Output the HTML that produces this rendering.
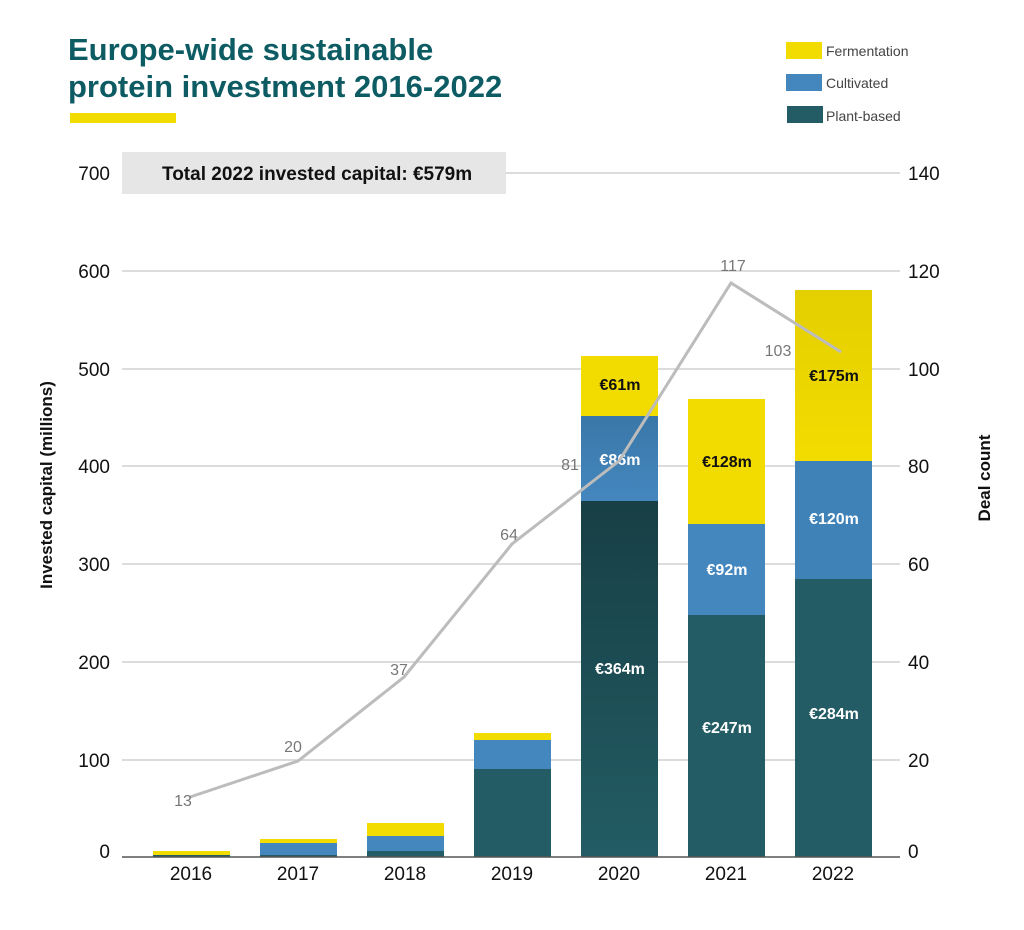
<!DOCTYPE html>
<html><head><meta charset="utf-8"><style>
body{margin:0;background:#fff;}
svg text{font-family:"Liberation Sans",sans-serif;}
</style></head><body>
<svg width="1024" height="925" viewBox="0 0 1024 925" xmlns="http://www.w3.org/2000/svg">
<defs>
<linearGradient id="g20" x1="0" y1="0" x2="0" y2="1"><stop offset="0" stop-color="#173f45"/><stop offset="1" stop-color="#235c64"/></linearGradient>
<linearGradient id="c20" x1="0" y1="0" x2="0" y2="1"><stop offset="0" stop-color="#3a77a8"/><stop offset="1" stop-color="#4487be"/></linearGradient>
<linearGradient id="f22" x1="0" y1="0" x2="0" y2="1"><stop offset="0" stop-color="#e4cf00"/><stop offset="1" stop-color="#f2dc00"/></linearGradient>
</defs>
<text x="68" y="60" font-size="31" font-weight="bold" fill="#0e5c63">Europe-wide sustainable</text>
<text x="68" y="97" font-size="31" font-weight="bold" fill="#0e5c63">protein investment 2016-2022</text>
<rect x="70" y="113" width="106" height="10" fill="#f2dc00"/>
<rect x="786" y="42" width="36" height="17" fill="#f2dc00"/>
<text x="826" y="56" font-size="14" fill="#444">Fermentation</text>
<rect x="786" y="74" width="36" height="17" fill="#4487be"/>
<text x="826" y="88" font-size="14" fill="#444">Cultivated</text>
<rect x="787" y="106" width="36" height="17" fill="#235c64"/>
<text x="826" y="121" font-size="14" fill="#444">Plant-based</text>
<g stroke="#d0d0d0" stroke-width="1.5">
<line x1="122" y1="173" x2="900" y2="173"/><line x1="122" y1="271" x2="900" y2="271"/><line x1="122" y1="369" x2="900" y2="369"/><line x1="122" y1="466" x2="900" y2="466"/><line x1="122" y1="564" x2="900" y2="564"/><line x1="122" y1="662" x2="900" y2="662"/><line x1="122" y1="760" x2="900" y2="760"/>
</g>
<rect x="122" y="152" width="384" height="42" fill="#e6e6e6"/>
<text x="162" y="180" font-size="19" font-weight="bold" fill="#111">Total 2022 invested capital: €579m</text>
<g font-size="19" fill="#111" text-anchor="end">
<text x="110" y="180">700</text><text x="110" y="278">600</text><text x="110" y="376">500</text><text x="110" y="473">400</text><text x="110" y="571">300</text><text x="110" y="669">200</text><text x="110" y="767">100</text><text x="110" y="858">0</text>
</g>
<g font-size="19" fill="#111">
<text x="908" y="180">140</text><text x="908" y="278">120</text><text x="908" y="376">100</text><text x="908" y="473">80</text><text x="908" y="571">60</text><text x="908" y="669">40</text><text x="908" y="767">20</text><text x="908" y="858">0</text>
</g>
<text transform="translate(52,485) rotate(-90)" font-size="17" font-weight="bold" fill="#111" text-anchor="middle">Invested capital (millions)</text>
<text transform="translate(990,478) rotate(-90)" font-size="17" font-weight="bold" fill="#111" text-anchor="middle">Deal count</text>
<!-- bars -->
<rect x="153" y="851" width="77" height="4" fill="#f2dc00"/><rect x="153" y="855" width="77" height="2" fill="#235c64"/>
<rect x="260" y="839" width="77" height="4" fill="#f2dc00"/><rect x="260" y="843" width="77" height="12" fill="#4487be"/><rect x="260" y="855" width="77" height="2" fill="#235c64"/>
<rect x="367" y="823" width="77" height="13" fill="#f2dc00"/><rect x="367" y="836" width="77" height="15" fill="#4487be"/><rect x="367" y="851" width="77" height="6" fill="#235c64"/>
<rect x="474" y="733" width="77" height="7" fill="#f2dc00"/><rect x="474" y="740" width="77" height="29" fill="#4487be"/><rect x="474" y="769" width="77" height="88" fill="#235c64"/>
<rect x="581" y="356" width="77" height="60" fill="#f2dc00"/><rect x="581" y="416" width="77" height="85" fill="url(#c20)"/><rect x="581" y="501" width="77" height="356" fill="url(#g20)"/>
<rect x="688" y="399" width="77" height="125" fill="#f2dc00"/><rect x="688" y="524" width="77" height="91" fill="#4487be"/><rect x="688" y="615" width="77" height="242" fill="#235c64"/>
<rect x="795" y="290" width="77" height="171" fill="url(#f22)"/><rect x="795" y="461" width="77" height="118" fill="#3f82b8"/><rect x="795" y="579" width="77" height="278" fill="#235c64"/>
<line x1="122" y1="857" x2="900" y2="857" stroke="#555" stroke-width="1.5"/>
<g font-size="16" font-weight="bold" text-anchor="middle">
<text x="620" y="390" fill="#111">€61m</text><text x="620" y="465" fill="#fff">€86m</text><text x="620" y="674" fill="#fff">€364m</text>
<text x="727" y="467" fill="#111">€128m</text><text x="727" y="575" fill="#fff">€92m</text><text x="727" y="733" fill="#fff">€247m</text>
<text x="834" y="381" fill="#111">€175m</text><text x="834" y="524" fill="#fff">€120m</text><text x="834" y="719" fill="#fff">€284m</text>
</g>
<polyline points="190,797 298,761 404,677 512,544 619,461 731,283 841,352" fill="none" stroke="#bcbcbc" stroke-width="3"/>
<g font-size="16" fill="#777" text-anchor="middle">
<text x="183" y="806">13</text><text x="293" y="752">20</text><text x="399" y="675">37</text><text x="509" y="540">64</text><text x="570" y="470">81</text><text x="733" y="271">117</text><text x="778" y="356">103</text>
</g>
<g font-size="19" fill="#111" text-anchor="middle">
<text x="191" y="880">2016</text><text x="298" y="880">2017</text><text x="405" y="880">2018</text><text x="512" y="880">2019</text><text x="619" y="880">2020</text><text x="726" y="880">2021</text><text x="833" y="880">2022</text>
</g>
</svg>
</body></html>
